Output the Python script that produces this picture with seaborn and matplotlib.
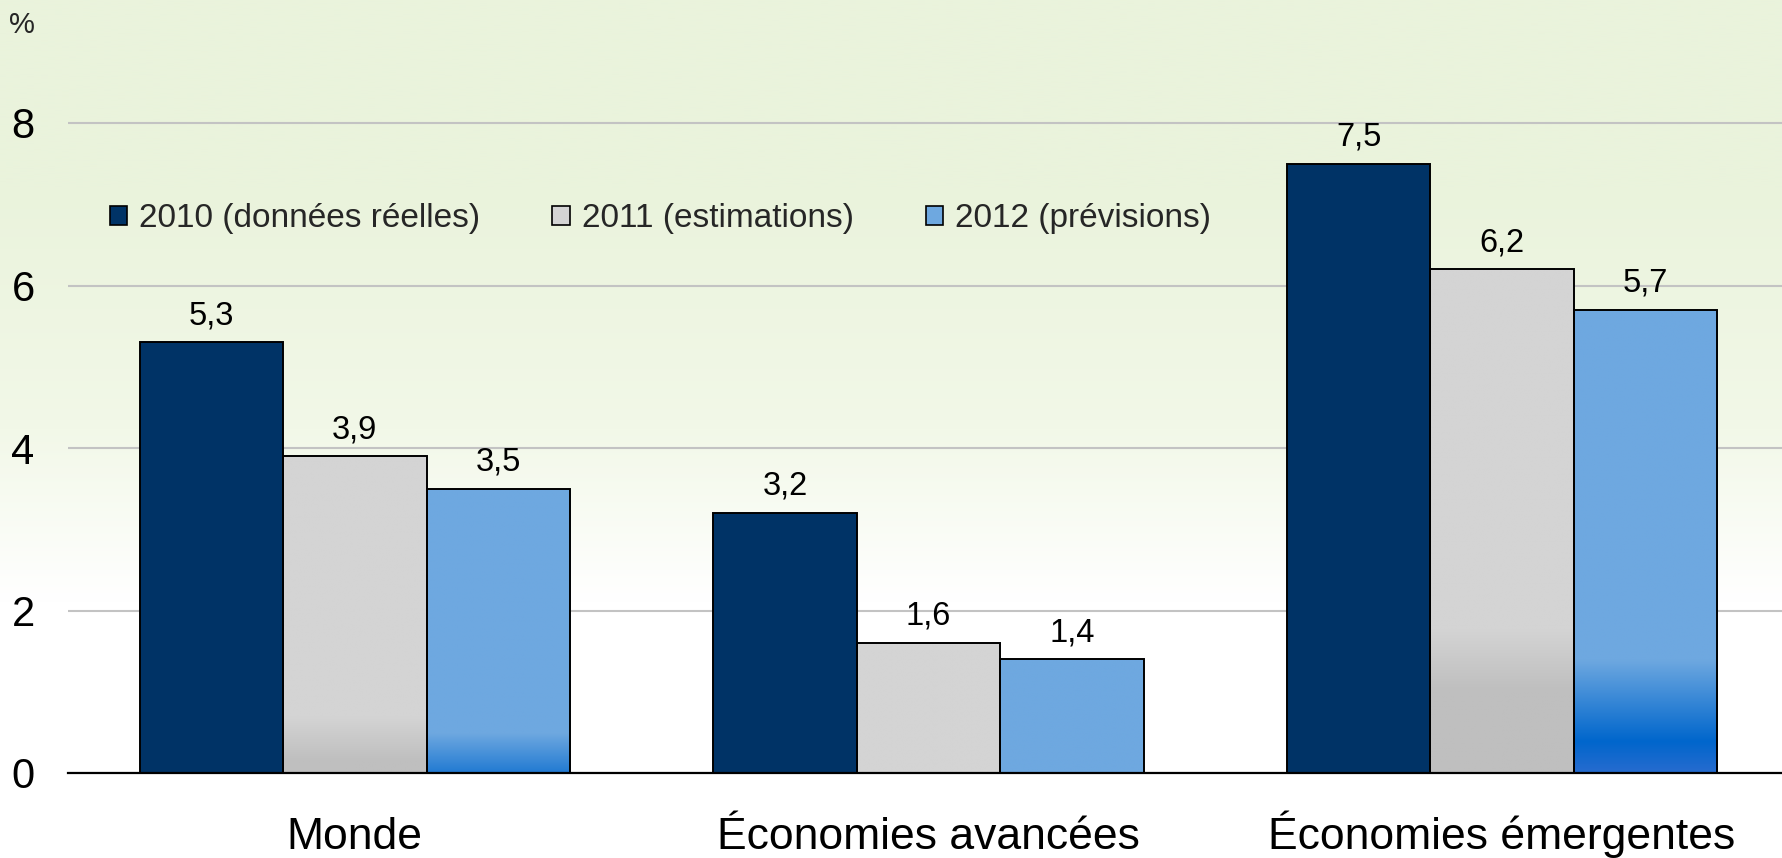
import numpy as np
import pandas as pd
import matplotlib
matplotlib.use("Agg")
import matplotlib.pyplot as plt
import seaborn as sns
from matplotlib.colors import to_rgb
from matplotlib.patches import Patch

# --- data -------------------------------------------------------------
categories = ["Monde", "Économies avancées", "Économies émergentes"]
series = ["2010 (données réelles)", "2011 (estimations)", "2012 (prévisions)"]
v2010 = [5.3, 3.2, 7.5]
v2011 = [3.9, 1.6, 6.2]
v2012 = [3.5, 1.4, 5.7]
yticks = [0, 2, 4, 6, 8]

df = pd.DataFrame({
    "region": categories * 3,
    "serie": [s for s in series for _ in categories],
    "value": v2010 + v2011 + v2012,
})

# --- style --------------------------------------------------------------
sns.set_theme(style="white")
plt.rcParams["font.family"] = ["Liberation Sans", "DejaVu Sans"]

W, H = 1782, 858
colors = ["#003366", "#D4D4D4", "#6EA8E0"]

# vertical shading of the bar fills: (stop, colour) along the bar,
# measured from a virtual base sitting `k` units below zero
shading = {
    1: dict(k=2.1, stops=[(0.0, "#BFBFBF"), (0.375, "#BFBFBF"),
                          (0.465, "#D4D4D4"), (1.0, "#D4D4D4")]),
    2: dict(k=1.6, stops=[(0.0, "#3372D2"), (0.215, "#2A6CCF"),
                          (0.271, "#0066CC"), (0.409, "#6EA8E0"),
                          (1.0, "#6EA8E0")]),
}

fig = plt.figure(figsize=(W / 100, H / 100), dpi=100)
fig.patch.set_facecolor("white")

# background wash: pale green at the top fading to white
bg = fig.add_axes([0, 0, 1, 1], zorder=-10)
bg.set_axis_off()
yy = np.linspace(0, 1, 400)  # 0 = top
top_c = np.array(to_rgb("#EAF3DC"))
mid_c = np.array(to_rgb("#F2F8E8"))
white = np.ones(3)
grad = np.empty((400, 1, 3))
for i, t in enumerate(yy):
    if t < 0.22:
        c = top_c
    elif t < 0.5:
        f = (t - 0.22) / 0.28
        c = top_c * (1 - f) + mid_c * f
    elif t < 0.7:
        f = (t - 0.5) / 0.2
        c = mid_c * (1 - f) + white * f
    else:
        c = white
    grad[i, 0] = c
bg.imshow(grad, aspect="auto", extent=[0, 1, 0, 1], origin="upper",
          interpolation="bilinear")
bg.set_xlim(0, 1)
bg.set_ylim(0, 1)

ax = fig.add_axes([68 / W, 85 / H, 1 - 68 / W, 773 / H])
ax.set_facecolor("none")

sns.barplot(data=df, x="region", y="value", hue="serie",
            hue_order=series, order=categories, palette=colors,
            width=0.75, saturation=1, errorbar=None, legend=False,
            edgecolor="black", linewidth=1.4, ax=ax)

ymax = 773 / 81.25


def shade(y, h, spec):
    s = (y + spec["k"]) / (h + spec["k"])
    pos = [p for p, _ in spec["stops"]]
    cols = np.array([to_rgb(c) for _, c in spec["stops"]])
    return np.stack([np.interp(s, pos, cols[:, j]) for j in range(3)], axis=-1)


for si, cont in enumerate(ax.containers):
    if si in shading:
        for p in cont.patches:
            x0, w, h = p.get_x(), p.get_width(), p.get_height()
            y = np.linspace(0, h, 300)
            img = shade(y, h, shading[si])[:, None, :]
            im = ax.imshow(img, extent=[x0, x0 + w, 0, h], origin="lower",
                           aspect="auto", interpolation="bilinear", zorder=0.9)
            im.set_clip_path(p)
            p.set_facecolor("none")
            p.set_zorder(1)
    vals = [p.get_height() for p in cont.patches]
    ax.bar_label(cont, labels=[f"{v:.1f}".replace(".", ",") for v in vals],
                 padding=8, fontsize=23.5, color="black")

ax.set_ylim(0, ymax)
ax.set_xlim(-0.5, 2.488)

# axes furniture
ax.set_yticks(yticks)
ax.set_yticklabels([str(t) for t in yticks])
ax.yaxis.grid(True, color="#C3C3C3", linewidth=1.5)
ax.xaxis.grid(False)
ax.set_axisbelow(True)
for side in ["top", "left", "right"]:
    ax.spines[side].set_visible(False)
ax.spines["bottom"].set_color("black")
ax.spines["bottom"].set_linewidth(1.6)
ax.spines["bottom"].set_zorder(3)
ax.tick_params(axis="y", length=0, pad=24, labelsize=30, labelcolor="black")
ax.tick_params(axis="x", length=0, pad=55, labelsize=32, labelcolor="black")
for lab in ax.get_xticklabels():
    lab.set_verticalalignment("baseline")
ax.set_xlabel("")
ax.set_ylabel("")

fig.text(22 / W, 1 - 25 / H, "%", ha="center", va="center", fontsize=21)

handles = [Patch(facecolor=c, edgecolor="black", linewidth=1.2) for c in colors]
fig.legend(handles, series, loc="center left",
           bbox_to_anchor=(110 / W, 1 - 219 / H), ncol=3, frameon=False,
           fontsize=24, handlelength=0.52, handleheight=0.52,
           handletextpad=0.36, columnspacing=2.16, borderpad=0,
           borderaxespad=0)

fig.savefig("out.png", dpi=100)
